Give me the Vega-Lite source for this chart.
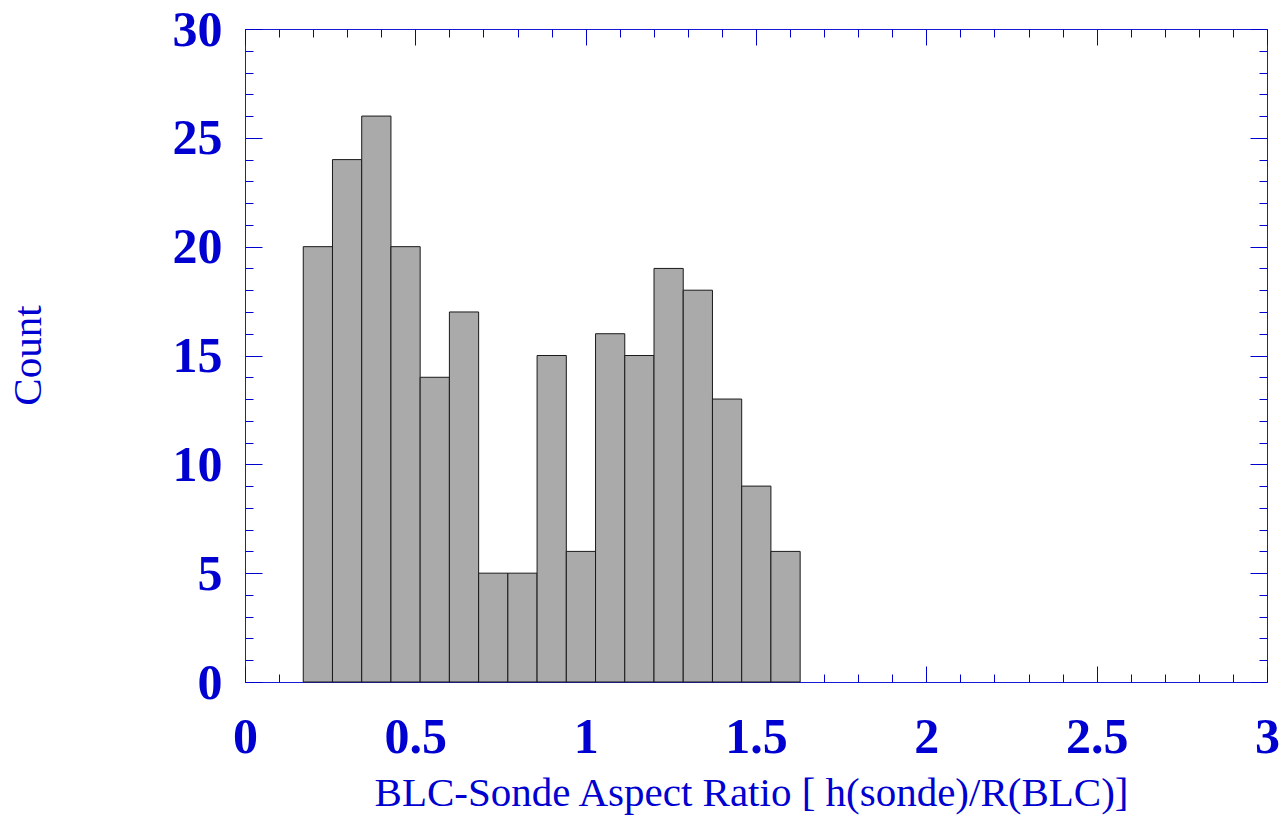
{
  "$schema": "https://vega.github.io/schema/vega-lite/v6.json",
  "autosize": "none",
  "width": 1022,
  "height": 653,
  "padding": {"left": 245, "top": 29, "right": 17, "bottom": 135},
  "background": "white",
  "config": {
    "view": {"stroke": "#1a1ad6", "strokeWidth": 1},
    "axis": {"grid": false, "domain": false, "tickColor": "#0000d0", "tickWidth": 1, "labelFont": "Liberation Serif", "labelFontWeight": "bold", "labelFontSize": 50, "labelColor": "#0000d0", "titleFont": "Liberation Serif", "titleFontWeight": "normal", "titleFontSize": 41, "titleColor": "#0000d0", "labelFlush": false, "labelOverlap": false, "labelBound": false}
  },
  "data": {"values": [
    {"start": 0.171, "end": 0.2568, "count": 20},
    {"start": 0.2568, "end": 0.3426, "count": 24},
    {"start": 0.3426, "end": 0.4284, "count": 26},
    {"start": 0.4284, "end": 0.5142, "count": 20},
    {"start": 0.5142, "end": 0.6, "count": 14},
    {"start": 0.6, "end": 0.6858, "count": 17},
    {"start": 0.6858, "end": 0.7716, "count": 5},
    {"start": 0.7716, "end": 0.8574, "count": 5},
    {"start": 0.8574, "end": 0.9432, "count": 15},
    {"start": 0.9432, "end": 1.029, "count": 6},
    {"start": 1.029, "end": 1.1148, "count": 16},
    {"start": 1.1148, "end": 1.2006, "count": 15},
    {"start": 1.2006, "end": 1.2864, "count": 19},
    {"start": 1.2864, "end": 1.3722, "count": 18},
    {"start": 1.3722, "end": 1.458, "count": 13},
    {"start": 1.458, "end": 1.5438, "count": 9},
    {"start": 1.5438, "end": 1.6296, "count": 6}
  ]},
  "resolve": {"axis": {"x": "independent", "y": "independent"}},
  "layer": [
    {
      "mark": {"type": "bar", "fill": "#aaaaaa", "stroke": "#1a1a1a", "strokeWidth": 1},
      "encoding": {
        "x": {"field": "start", "type": "quantitative", "scale": {"domain": [0, 3], "nice": false, "zero": false},
              "axis": {"orient": "bottom", "values": [0, 0.5, 1, 1.5, 2, 2.5, 3], "format": "~g", "ticks": false, "tickSize": 0, "labelPadding": 30, "title": "BLC-Sonde Aspect Ratio [ h(sonde)/R(BLC)]", "titleBaseline": "alphabetic", "titleY": 123, "titleX": 506, "titleAnchor": "middle"}},
        "x2": {"field": "end"},
        "y": {"field": "count", "type": "quantitative", "scale": {"domain": [0, 30], "nice": false},
              "axis": {"orient": "left", "values": [0, 5, 10, 15, 20, 25, 30], "format": "~g", "ticks": false, "tickSize": 0, "labelPadding": 23, "labelBaseline": "alphabetic", "labelOffset": 16, "title": "Count", "titleBaseline": "alphabetic", "titleX": -205, "titleY": 326, "titleAngle": -90, "titleAnchor": "middle"}},
        "y2": {"datum": 0}
      }
    },
    {
      "mark": {"type": "bar", "opacity": 0},
      "encoding": {
        "x": {"field": "start", "type": "quantitative", "scale": {"domain": [0, 3], "nice": false, "zero": false},
              "axis": {"orient": "bottom", "values": [0, 0.5, 1, 1.5, 2, 2.5, 3], "labels": false, "tickSize": -16, "title": null}},
        "x2": {"field": "end"},
        "y": {"field": "count", "type": "quantitative", "scale": {"domain": [0, 30], "nice": false},
              "axis": {"orient": "left", "values": [0, 5, 10, 15, 20, 25, 30], "labels": false, "tickSize": -17, "title": null}},
        "y2": {"datum": 0}
      }
    },
    {
      "mark": {"type": "bar", "opacity": 0},
      "encoding": {
        "x": {"field": "start", "type": "quantitative", "scale": {"domain": [0, 3], "nice": false, "zero": false},
              "axis": {"orient": "bottom", "values": [0.1, 0.2, 0.3, 0.4, 0.6, 0.7, 0.8, 0.9, 1.1, 1.2, 1.3, 1.4, 1.6, 1.7, 1.8, 1.9, 2.1, 2.2, 2.3, 2.4, 2.6, 2.7, 2.8, 2.9], "labels": false, "tickSize": -8, "title": null}},
        "x2": {"field": "end"},
        "y": {"field": "count", "type": "quantitative", "scale": {"domain": [0, 30], "nice": false},
              "axis": {"orient": "left", "values": [1, 2, 3, 4, 6, 7, 8, 9, 11, 12, 13, 14, 16, 17, 18, 19, 21, 22, 23, 24, 26, 27, 28, 29], "labels": false, "tickSize": -8, "title": null}},
        "y2": {"datum": 0}
      }
    },
    {
      "mark": {"type": "bar", "opacity": 0},
      "encoding": {
        "x": {"field": "start", "type": "quantitative", "scale": {"domain": [0, 3], "nice": false, "zero": false},
              "axis": {"orient": "top", "values": [0, 0.5, 1, 1.5, 2, 2.5, 3], "labels": false, "tickSize": -16, "title": null}},
        "x2": {"field": "end"},
        "y": {"field": "count", "type": "quantitative", "scale": {"domain": [0, 30], "nice": false},
              "axis": {"orient": "right", "values": [0, 5, 10, 15, 20, 25, 30], "labels": false, "tickSize": -17, "title": null}},
        "y2": {"datum": 0}
      }
    },
    {
      "mark": {"type": "bar", "opacity": 0},
      "encoding": {
        "x": {"field": "start", "type": "quantitative", "scale": {"domain": [0, 3], "nice": false, "zero": false},
              "axis": {"orient": "top", "values": [0.1, 0.2, 0.3, 0.4, 0.6, 0.7, 0.8, 0.9, 1.1, 1.2, 1.3, 1.4, 1.6, 1.7, 1.8, 1.9, 2.1, 2.2, 2.3, 2.4, 2.6, 2.7, 2.8, 2.9], "labels": false, "tickSize": -8, "title": null}},
        "x2": {"field": "end"},
        "y": {"field": "count", "type": "quantitative", "scale": {"domain": [0, 30], "nice": false},
              "axis": {"orient": "right", "values": [1, 2, 3, 4, 6, 7, 8, 9, 11, 12, 13, 14, 16, 17, 18, 19, 21, 22, 23, 24, 26, 27, 28, 29], "labels": false, "tickSize": -8, "title": null}},
        "y2": {"datum": 0}
      }
    }
  ]
}
